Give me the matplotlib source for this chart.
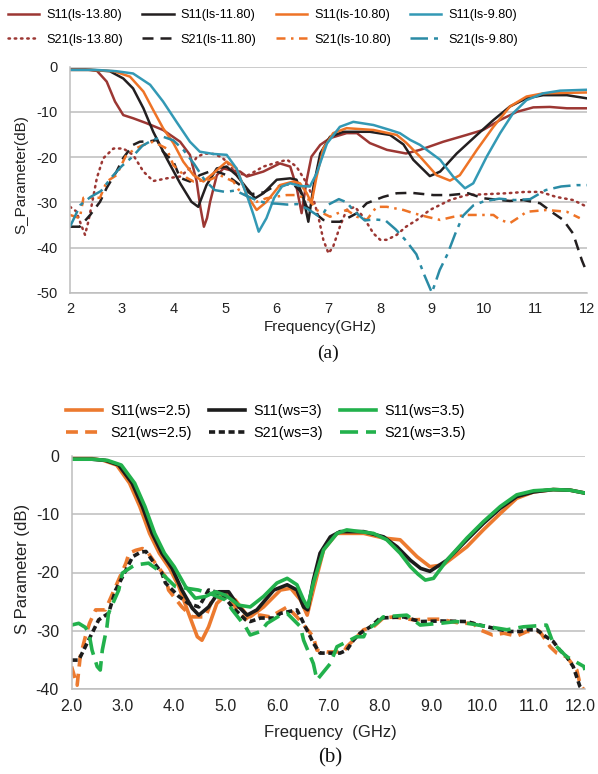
import matplotlib
matplotlib.use("Agg")
import matplotlib.pyplot as plt
import matplotlib.transforms as mtransforms

plt.rcParams['font.family'] = ['Liberation Sans', 'DejaVu Sans']
plt.rcParams['axes.unicode_minus'] = False

# ---------------- Panel (a) data ----------------
a_s11_1380_f = [2.0, 2.3, 2.52, 2.71, 2.87, 3.03, 3.22, 3.48, 3.8, 4.13, 4.32, 4.45, 4.52, 4.59, 4.65, 4.71, 4.84, 4.97, 5.1, 5.29, 5.42, 5.74, 6.06, 6.26, 6.38, 6.48, 6.58, 6.67, 6.84, 7.03, 7.35, 7.55, 7.8, 8.13, 8.5, 8.77, 9.22, 9.67, 9.99, 10.32, 10.64, 10.96, 11.28, 11.61, 12.0]
a_s11_1380_v = [-0.6, -0.6, -0.9, -3.3, -7.7, -10.7, -11.4, -12.5, -14.0, -16.6, -19.5, -25.4, -31.0, -35.4, -33.5, -29.9, -24.0, -22.5, -22.9, -23.2, -24.3, -23.2, -21.4, -22.1, -26.5, -32.4, -25.0, -19.9, -17.3, -15.8, -14.7, -14.7, -16.9, -18.4, -19.2, -18.4, -16.6, -15.1, -14.0, -11.8, -10.0, -9.0, -8.9, -9.2, -9.2]

a_s11_1180_f = [2.0, 2.4, 2.77, 3.03, 3.22, 3.42, 3.61, 3.87, 4.13, 4.35, 4.48, 4.64, 4.84, 5.03, 5.22, 5.42, 5.58, 5.74, 6.0, 6.26, 6.38, 6.51, 6.61, 6.71, 6.84, 7.03, 7.29, 7.8, 8.19, 8.45, 8.64, 8.96, 9.16, 9.48, 9.87, 10.19, 10.51, 10.83, 11.15, 11.61, 12.0]
a_s11_1180_v = [-0.7, -0.7, -1.0, -2.6, -4.8, -9.2, -14.4, -20.3, -25.8, -29.9, -31.0, -26.2, -22.5, -22.1, -24.0, -26.9, -29.1, -28.0, -25.0, -24.7, -25.0, -28.8, -34.3, -26.5, -19.2, -15.5, -14.4, -14.4, -15.1, -17.2, -20.6, -24.2, -23.2, -19.2, -15.1, -11.8, -8.8, -7.0, -6.3, -6.3, -7.0]

a_s11_1080_f = [2.0, 2.4, 2.85, 3.16, 3.42, 3.61, 3.8, 4.0, 4.19, 4.39, 4.58, 4.77, 5.03, 5.22, 5.42, 5.61, 5.8, 6.06, 6.32, 6.45, 6.58, 6.67, 6.77, 6.9, 7.09, 7.35, 7.87, 8.32, 8.5, 8.77, 9.09, 9.35, 9.54, 9.87, 10.19, 10.51, 10.83, 11.15, 12.0]
a_s11_1080_v = [-0.7, -0.7, -1.0, -2.2, -5.5, -9.6, -13.6, -16.9, -21.0, -24.0, -25.4, -23.6, -21.0, -22.5, -28.4, -31.7, -29.9, -26.2, -25.4, -25.8, -28.0, -30.2, -24.3, -18.1, -14.7, -13.6, -14.0, -15.1, -16.8, -19.9, -24.0, -25.2, -24.0, -18.4, -13.3, -8.8, -6.6, -5.9, -5.7]

a_s11_980_f = [2.0, 2.5, 2.9, 3.22, 3.55, 3.8, 4.06, 4.32, 4.51, 4.77, 5.03, 5.22, 5.42, 5.55, 5.65, 5.8, 5.95, 6.1, 6.26, 6.45, 6.64, 6.77, 6.97, 7.22, 7.48, 7.87, 8.19, 8.38, 8.58, 8.77, 9.16, 9.41, 9.64, 9.8, 10.06, 10.32, 10.57, 10.83, 11.15, 11.48, 12.0]
a_s11_980_v = [-0.7, -0.7, -1.0, -1.5, -4.0, -7.7, -12.2, -16.6, -18.8, -19.3, -19.5, -22.5, -28.4, -32.8, -36.5, -33.5, -29.0, -26.5, -25.8, -26.4, -26.5, -23.6, -17.0, -13.3, -12.2, -12.9, -14.0, -14.7, -16.2, -17.3, -20.6, -24.3, -26.9, -25.8, -19.9, -14.7, -10.3, -7.4, -5.9, -5.3, -5.1]

a_s21_1380_f = [2.0, 2.12, 2.2, 2.29, 2.35, 2.42, 2.52, 2.64, 2.84, 3.03, 3.22, 3.42, 3.61, 3.87, 4.13, 4.32, 4.45, 4.6, 4.77, 4.93, 5.03, 5.2, 5.45, 5.74, 6.0, 6.2, 6.38, 6.58, 6.7, 6.8, 6.9, 7.0, 7.09, 7.22, 7.35, 7.51, 7.67, 7.87, 8.0, 8.13, 8.32, 8.5, 8.71, 8.96, 9.35, 9.67, 10.05, 10.45, 10.8, 11.1, 11.4, 11.73, 12.0]
a_s21_1380_v = [-31.0, -32.0, -34.5, -37.2, -34.5, -30.6, -24.6, -20.3, -18.1, -18.1, -19.5, -23.2, -25.3, -24.7, -24.3, -22.5, -20.0, -19.2, -19.3, -20.0, -21.0, -23.5, -24.0, -22.1, -21.2, -20.6, -22.1, -25.8, -29.0, -33.0, -38.3, -41.3, -39.8, -35.4, -31.7, -31.0, -33.2, -36.9, -38.3, -38.3, -37.2, -35.4, -33.9, -31.7, -29.5, -28.4, -28.2, -28.0, -27.7, -27.7, -28.8, -29.5, -31.0]

a_s21_1180_f = [2.0, 2.19, 2.39, 2.58, 2.71, 2.9, 3.03, 3.22, 3.35, 3.55, 3.68, 3.8, 4.0, 4.13, 4.32, 4.51, 4.77, 5.03, 5.29, 5.5, 5.75, 5.9, 6.13, 6.3, 6.45, 6.58, 6.75, 6.9, 7.03, 7.22, 7.42, 7.55, 7.74, 8.06, 8.32, 8.6, 9.03, 9.35, 9.7, 9.99, 10.32, 10.51, 10.77, 11.09, 11.35, 11.54, 11.73, 11.9, 12.0]
a_s21_1180_v = [-35.4, -35.4, -32.8, -29.9, -26.8, -23.2, -20.2, -17.3, -16.6, -16.5, -16.2, -18.8, -21.0, -24.6, -25.4, -24.0, -22.9, -24.0, -26.2, -28.2, -27.8, -26.8, -26.2, -25.8, -27.5, -31.0, -32.5, -33.9, -34.3, -34.3, -33.2, -32.4, -30.2, -28.8, -28.0, -27.9, -28.4, -28.4, -28.0, -29.1, -29.5, -29.7, -29.5, -30.2, -32.4, -33.9, -36.9, -42.8, -45.6]

a_s21_1080_f = [2.0, 2.19, 2.26, 2.58, 2.71, 2.9, 3.09, 3.29, 3.42, 3.61, 3.87, 4.0, 4.26, 4.39, 4.71, 4.9, 5.16, 5.29, 5.61, 5.8, 6.19, 6.38, 6.64, 6.77, 7.03, 7.16, 7.35, 7.55, 7.74, 7.93, 8.13, 8.45, 8.64, 8.9, 9.16, 9.42, 9.67, 10.19, 10.32, 10.51, 10.7, 10.83, 11.22, 11.61, 11.86]
a_s21_1080_v = [-32.8, -33.5, -29.0, -29.0, -25.4, -24.0, -19.5, -18.0, -17.3, -16.6, -18.1, -21.8, -24.6, -25.4, -25.0, -24.0, -25.4, -27.7, -29.9, -29.1, -28.4, -28.4, -29.5, -31.7, -33.2, -32.5, -31.7, -33.2, -33.9, -31.0, -31.0, -31.7, -32.4, -33.2, -33.9, -33.2, -32.8, -32.8, -33.9, -34.6, -33.2, -32.1, -31.7, -32.1, -33.5]

a_s21_980_f = [2.0, 2.2, 2.4, 2.6, 2.8, 3.0, 3.2, 3.4, 3.6, 3.8, 4.0, 4.2, 4.4, 4.6, 4.8, 5.0, 5.2, 5.4, 5.6, 5.8, 6.0, 6.2, 6.4, 6.6, 6.8, 6.9, 7.0, 7.2, 7.35, 7.5, 7.7, 7.9, 8.1, 8.3, 8.5, 8.7, 8.85, 9.0, 9.15, 9.3, 9.45, 9.6, 9.8, 10.0, 10.3, 10.6, 10.9, 11.2, 11.5, 11.8, 12.0]
a_s21_980_v = [-35.4, -30.6, -28.8, -27.5, -24.5, -22.0, -20.0, -17.5, -16.2, -15.5, -16.3, -18.5, -21.5, -25.0, -27.3, -27.7, -27.4, -28.5, -29.5, -30.2, -30.3, -30.5, -30.4, -31.5, -33.0, -32.5, -30.5, -29.3, -30.0, -32.0, -34.0, -33.8, -34.0, -36.0, -38.5, -41.5, -46.0, -50.0, -45.0, -41.5, -37.0, -33.0, -30.7, -29.8, -29.2, -29.5, -29.3, -27.3, -26.5, -26.2, -26.2]

a_labels = ['S11(ls-13.80)', 'S21(ls-13.80)', 'S11(ls-11.80)', 'S21(ls-11.80)',
            'S11(ls-10.80)', 'S21(ls-10.80)', 'S11(ls-9.80)', 'S21(ls-9.80)']

# ---------------- Panel (b) data ----------------
b_s11_25_f = [2.0, 2.4, 2.62, 2.88, 3.13, 3.33, 3.52, 3.71, 3.91, 4.09, 4.28, 4.45, 4.54, 4.67, 4.83, 5.0, 5.19, 5.39, 5.48, 5.74, 6.07, 6.27, 6.46, 6.59, 6.71, 6.91, 7.17, 7.69, 8.08, 8.4, 8.73, 8.98, 9.24, 9.7, 10.02, 10.35, 10.67, 11.0, 11.38, 11.71, 12.0]
b_s11_25_v = [-0.5, -0.5, -0.8, -1.6, -4.7, -8.7, -13.3, -16.7, -19.3, -22.4, -27.0, -31.0, -31.6, -29.3, -25.3, -23.9, -24.7, -27.0, -27.6, -25.9, -23.0, -22.7, -24.7, -27.3, -23.0, -16.1, -13.3, -13.3, -14.1, -14.4, -17.3, -19.0, -18.7, -15.6, -12.7, -9.9, -7.3, -6.2, -5.8, -5.9, -6.4]

b_s11_3_f = [2.0, 2.4, 2.66, 2.92, 3.18, 3.38, 3.57, 3.76, 3.96, 4.15, 4.35, 4.48, 4.67, 4.87, 5.06, 5.26, 5.42, 5.61, 5.94, 6.2, 6.39, 6.52, 6.6, 6.71, 6.84, 7.04, 7.23, 7.69, 8.08, 8.34, 8.6, 8.8, 8.98, 9.31, 9.7, 10.02, 10.35, 10.67, 11.0, 11.38, 11.71, 12.0]
b_s11_3_v = [-0.6, -0.6, -0.8, -1.6, -4.7, -8.7, -13.3, -16.7, -19.3, -23.0, -26.1, -27.3, -25.9, -23.3, -23.3, -25.9, -27.3, -26.4, -23.0, -22.1, -23.0, -25.9, -26.4, -21.3, -16.7, -13.9, -13.0, -13.0, -13.9, -15.6, -17.9, -19.3, -19.8, -17.9, -14.4, -11.6, -9.0, -7.0, -6.2, -5.8, -5.9, -6.4]

b_s11_35_f = [2.0, 2.4, 2.7, 2.97, 3.23, 3.43, 3.62, 3.81, 4.0, 4.22, 4.41, 4.61, 4.8, 5.0, 5.26, 5.48, 5.74, 6.0, 6.2, 6.39, 6.52, 6.6, 6.71, 6.91, 7.17, 7.36, 7.88, 8.14, 8.4, 8.6, 8.75, 8.89, 9.05, 9.31, 9.7, 10.02, 10.35, 10.67, 11.0, 11.38, 11.71, 12.0]
b_s11_35_v = [-0.6, -0.6, -0.8, -1.6, -4.7, -8.7, -13.3, -16.7, -19.0, -22.4, -24.4, -24.1, -23.3, -23.9, -25.6, -25.9, -24.1, -21.8, -21.0, -22.1, -24.7, -25.9, -21.8, -16.1, -13.3, -12.7, -13.3, -14.4, -16.7, -19.0, -20.3, -21.3, -21.0, -17.9, -14.1, -11.3, -8.7, -6.7, -6.0, -5.8, -5.9, -6.4]

b_s21_25_f = [2.0, 2.11, 2.17, 2.27, 2.35, 2.47, 2.66, 2.86, 3.06, 3.12, 3.25, 3.38, 3.45, 3.63, 3.83, 3.89, 4.15, 4.35, 4.61, 4.74, 5.06, 5.19, 5.39, 5.48, 5.68, 5.87, 6.2, 6.39, 6.71, 6.78, 6.97, 7.1, 7.3, 7.36, 7.49, 7.69, 7.88, 8.07, 8.27, 8.66, 8.98, 9.18, 9.57, 9.82, 9.95, 10.2, 10.42, 10.67, 10.87, 11.12, 11.32, 11.45, 11.64, 11.84, 11.9, 11.97]
b_s21_25_v = [-36.1, -39.3, -34.4, -31.0, -28.7, -26.4, -26.4, -22.4, -18.4, -16.7, -16.2, -15.9, -16.1, -18.4, -20.7, -23.0, -25.9, -27.6, -27.6, -24.7, -23.6, -26.0, -28.0, -27.3, -27.3, -27.6, -25.9, -27.6, -31.0, -33.3, -33.6, -33.6, -33.6, -32.7, -31.6, -29.8, -29.3, -27.8, -27.6, -28.1, -28.0, -28.0, -28.7, -28.7, -29.8, -30.7, -30.4, -30.9, -30.1, -30.1, -32.7, -33.8, -34.4, -36.7, -39.0, -40.0]

b_s21_3_f = [2.0, 2.14, 2.27, 2.4, 2.53, 2.72, 2.86, 3.06, 3.19, 3.35, 3.45, 3.57, 3.76, 3.83, 4.09, 4.28, 4.48, 4.67, 4.93, 5.13, 5.39, 5.48, 5.68, 5.94, 6.07, 6.39, 6.46, 6.65, 6.71, 6.84, 6.97, 7.23, 7.36, 7.49, 7.62, 7.82, 8.01, 8.47, 8.79, 9.18, 9.7, 9.95, 10.35, 10.55, 10.74, 10.87, 11.06, 11.19, 11.38, 11.51, 11.64, 11.77, 11.9, 11.95]
b_s21_3_v = [-35.0, -35.0, -32.7, -30.4, -28.1, -27.0, -23.0, -19.6, -17.3, -16.5, -16.4, -17.9, -20.1, -21.8, -24.1, -25.3, -25.9, -23.0, -23.6, -25.9, -28.1, -28.4, -27.8, -27.8, -27.0, -26.4, -27.6, -31.0, -32.1, -33.8, -33.8, -33.8, -33.3, -31.6, -30.4, -29.3, -27.8, -27.6, -28.4, -28.3, -28.4, -29.0, -29.8, -30.1, -30.1, -29.8, -29.8, -30.7, -31.8, -33.3, -34.4, -36.1, -39.5, -40.0]

b_s21_35_f = [2.0, 2.14, 2.27, 2.34, 2.4, 2.5, 2.56, 2.6, 2.69, 2.72, 2.92, 2.99, 3.18, 3.25, 3.5, 3.69, 3.89, 4.02, 4.47, 4.7, 5.0, 5.13, 5.39, 5.48, 5.68, 5.81, 6.07, 6.2, 6.46, 6.52, 6.71, 6.78, 7.04, 7.17, 7.42, 7.55, 7.69, 7.75, 7.94, 8.07, 8.53, 8.79, 9.18, 9.5, 10.48, 10.8, 11.25, 11.38, 11.64, 11.98, 12.0]
b_s21_35_v = [-29.0, -28.7, -29.4, -30.4, -33.3, -36.1, -36.7, -33.3, -29.3, -27.0, -23.0, -20.1, -19.0, -18.7, -18.4, -19.6, -21.3, -22.4, -23.0, -23.6, -24.7, -26.4, -29.3, -30.7, -30.1, -28.7, -27.3, -27.0, -29.3, -31.6, -35.6, -38.4, -35.6, -32.7, -31.6, -31.0, -31.0, -29.8, -28.7, -27.6, -27.3, -29.0, -28.7, -28.4, -29.8, -29.3, -29.0, -32.1, -34.4, -36.1, -36.7]

b_labels = ['S11(ws=2.5)', 'S21(ws=2.5)', 'S11(ws=3)', 'S21(ws=3)', 'S11(ws=3.5)', 'S21(ws=3.5)']

a_xticks = list(range(2, 13))
a_yticks = [0, -10, -20, -30, -40, -50]
b_xticks = [2.0, 3.0, 4.0, 5.0, 6.0, 7.0, 8.0, 9.0, 10.0, 11.0, 12.0]
b_yticks = [0, -10, -20, -30, -40]

# ---------------- Figure ----------------
W, H = 598, 774
fig = plt.figure(figsize=(W / 100, H / 100), dpi=100)


def ax_rect(l, r, t, b):
    return [l / W, 1 - b / H, (r - l) / W, (b - t) / H]


grid_c = '#BDBDBD'

axa = fig.add_axes(ax_rect(70, 587, 66.7, 292.7))
axb = fig.add_axes(ax_rect(71.5, 585, 455.7, 689.3))

RED = '#9C3733'
BLK = '#231F20'
ORA = '#EE7326'
TEAL = '#3399B5'
TEAL2 = '#2A8BA5'

lwa = 1.8
ha = []
ha += axa.plot(a_s11_1380_f, a_s11_1380_v, color=RED, lw=lwa)
ha += axa.plot(a_s21_1380_f, a_s21_1380_v, color=RED, lw=lwa, linestyle=(0, (0.6, 1.9)), dash_capstyle='round')
ha += axa.plot(a_s11_1180_f, a_s11_1180_v, color=BLK, lw=lwa)
ha += axa.plot(a_s21_1180_f, a_s21_1180_v, color=BLK, lw=lwa, linestyle=(0, (4.4, 2.8)))
ha += axa.plot(a_s11_1080_f, a_s11_1080_v, color=ORA, lw=lwa)
ha += axa.plot(a_s21_1080_f, a_s21_1080_v, color=ORA, lw=lwa, linestyle=(0, (3.6, 2.2, 1.0, 2.2)))
ha += axa.plot(a_s11_980_f, a_s11_980_v, color=TEAL, lw=lwa)
ha += axa.plot(a_s21_980_f, a_s21_980_v, color=TEAL2, lw=lwa, linestyle=(0, (7.0, 2.4, 1.6, 2.4)))

ORB = '#EC7A2F'
BKB = '#1C1C1C'
GRN = '#22B14C'
lwb = 2.6
hb = []
hb += axb.plot(b_s11_25_f, b_s11_25_v, color=ORB, lw=lwb)
hb += axb.plot(b_s21_25_f, b_s21_25_v, color=ORB, lw=lwb, linestyle=(0, (3.3, 2.0)))
hb += axb.plot(b_s11_3_f, b_s11_3_v, color=BKB, lw=lwb)
hb += axb.plot(b_s21_3_f, b_s21_3_v, color=BKB, lw=lwb, linestyle=(0, (1.7, 1.0)))
hb += axb.plot(b_s11_35_f, b_s11_35_v, color=GRN, lw=lwb)
hb += axb.plot(b_s21_35_f, b_s21_35_v, color=GRN, lw=lwb, linestyle=(0, (5.0, 2.2)))

for ax, xt, yt, ylim, fs, xfmt in [(axa, a_xticks, a_yticks, (-50, 0), 10.5, '{:g}'),
                                   (axb, b_xticks, b_yticks, (-40, 0), 11.5, '{:.1f}')]:
    ax.set_xlim(2, 12)
    ax.set_ylim(*ylim)
    ax.set_xticks(xt)
    ax.set_xticklabels([xfmt.format(v) for v in xt], fontsize=fs, color='#222222')
    ax.set_yticks(yt)
    ax.set_yticklabels(['{:g}'.format(v) for v in yt], fontsize=fs, color='#222222')
    ax.tick_params(axis='both', length=0)
    ax.tick_params(axis='y', pad=9)
    ax.tick_params(axis='x', pad=7)
    ax.grid(axis='y', color=grid_c, lw=1.1)
    ax.set_axisbelow(True)
    for s in ['top', 'right']:
        ax.spines[s].set_visible(False)
    for s in ['left', 'bottom']:
        ax.spines[s].set_color(grid_c)
        ax.spines[s].set_linewidth(1.1)

# keep the last (b) tick label inside the canvas
last = axb.get_xticklabels()[-1]
last.set_transform(last.get_transform() + mtransforms.ScaledTranslation(-5 / 100, 0, fig.dpi_scale_trans))

# Axis labels
fig.text(21 / W, 1 - 175 / H, 'S_Parameter(dB)', rotation=90, ha='center', va='center', fontsize=11, color='#222222')
fig.text(320 / W, 1 - 327 / H, 'Frequency(GHz)', ha='center', va='center', fontsize=11, color='#222222')
fig.text(328 / W, 1 - 353 / H, '(a)', ha='center', va='center', fontsize=14, family='Liberation Serif', color='#111111')

fig.text(23 / W, 1 - 569 / H, 'S Parameter (dB)', rotation=90, ha='center', va='center', fontsize=12, color='#222222')
fig.text(330 / W, 1 - 733 / H, 'Frequency  (GHz)', ha='center', va='center', fontsize=12, color='#222222')
fig.text(330 / W, 1 - 758 / H, '(b)', ha='center', va='center', fontsize=15, family='Liberation Serif', color='#111111')

# Legends
fig.legend(ha, a_labels, ncol=4, loc='center', bbox_to_anchor=(263 / W, 1 - 27.5 / H),
           frameon=False, fontsize=9.2, handlelength=2.45, handletextpad=0.55,
           columnspacing=1.5, labelspacing=0.95, borderpad=0)
fig.legend(hb, b_labels, ncol=3, loc='center', bbox_to_anchor=(266 / W, 1 - 422 / H),
           frameon=False, fontsize=10.4, handlelength=2.5, handletextpad=0.55,
           columnspacing=1.2, labelspacing=0.6, borderpad=0)

fig.savefig('out.png', dpi=100)
